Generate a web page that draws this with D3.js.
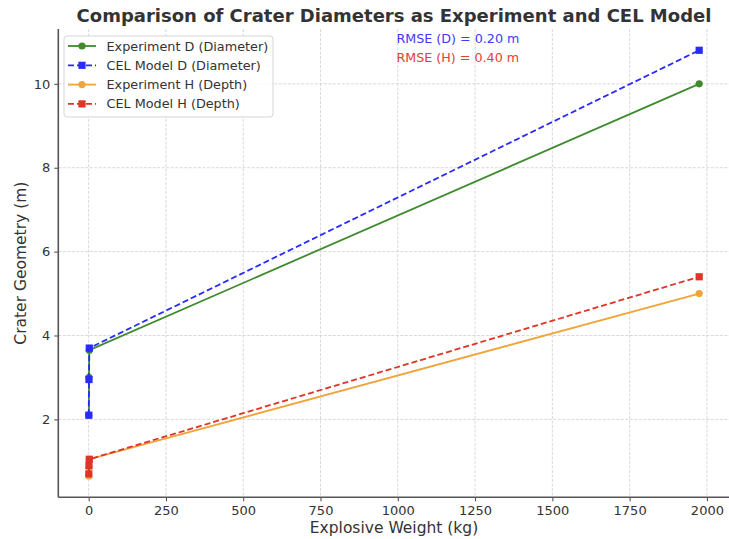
<!DOCTYPE html>
<html>
<head>
<meta charset="utf-8">
<script src="https://cdn.jsdelivr.net/npm/d3@7"></script>
<style>
  html, body { margin: 0; padding: 0; background: #fff; }
  svg { display: block; font-family: "DejaVu Sans", sans-serif; }
</style>
</head>
<body>
<svg id="chart" width="729" height="539"></svg>
<script>
// Explosive charge weights (kg)
const weights = [0.5, 1, 2, 1975];
// Crater diameter (m)
const expDiameter = [2.1, 3.0, 3.65, 10.0];
const celDiameter = [2.1, 2.95, 3.7, 10.8];
// Crater depth (m)
const expDepth = [0.65, 0.85, 1.05, 5.0];
const celDepth = [0.7, 0.9, 1.05, 5.4];

const xTicks = [0, 250, 500, 750, 1000, 1250, 1500, 1750, 2000];
const yTicks = [2, 4, 6, 8, 10];

const seriesNames = ["Experiment D (Diameter)", "CEL Model D (Diameter)", "Experiment H (Depth)", "CEL Model H (Depth)"];
const rmseLabels = ["RMSE (D) = 0.20 m", "RMSE (H) = 0.40 m"];

const series = [
  { name: seriesNames[0], values: expDiameter, color: "#3f8a2e", dash: null, marker: "circle" },
  { name: seriesNames[1], values: celDiameter, color: "#2a2aff", dash: "6,3", marker: "square" },
  { name: seriesNames[2], values: expDepth, color: "#f0a43a", dash: null, marker: "circle" },
  { name: seriesNames[3], values: celDepth, color: "#de3526", dash: "6,3", marker: "square" }
];

const svg = d3.select("#chart");
const box = { left: 58.3, right: 729.7, top: 29, bottom: 497.3 };

// Auto-range with 5% padding on each side
function padded(vals) {
  const [lo, hi] = d3.extent(vals);
  const m = (hi - lo) * 0.05;
  return [lo - m, hi + m];
}
const allY = [].concat(expDiameter, celDiameter, expDepth, celDepth);

const x = d3.scaleLinear().domain(padded(weights)).range([box.left, box.right]);
const y = d3.scaleLinear().domain(padded(allY)).range([box.bottom, box.top]);

// Grid
const grid = svg.append("g").attr("stroke", "#cfcfcf").attr("stroke-width", 0.8)
  .attr("stroke-dasharray", "3,1.5");
grid.selectAll(".gx").data(xTicks).join("line")
  .attr("x1", d => x(d)).attr("x2", d => x(d))
  .attr("y1", box.top).attr("y2", box.bottom);
grid.selectAll(".gy").data(yTicks).join("line")
  .attr("x1", box.left).attr("x2", box.right)
  .attr("y1", d => y(d)).attr("y2", d => y(d));

// Axes
const xAxis = svg.append("g").attr("transform", `translate(0,${box.bottom})`)
  .call(d3.axisBottom(x).tickValues(xTicks).tickSize(4).tickPadding(4).tickFormat(d3.format("d")));
const yAxis = svg.append("g").attr("transform", `translate(${box.left},0)`)
  .call(d3.axisLeft(y).tickValues(yTicks).tickSize(4).tickPadding(4).tickFormat(d3.format("d")));
[xAxis, yAxis].forEach(a => {
  a.select(".domain").remove();
  a.selectAll(".tick line").attr("stroke", "#444").attr("stroke-width", 1);
  a.selectAll(".tick text").attr("fill", "#333").style("font-size", "13px")
    .style("font-family", "DejaVu Sans, sans-serif");
});
// Spines (left and bottom)
svg.append("line").attr("x1", box.left).attr("x2", box.left).attr("y1", box.top).attr("y2", box.bottom)
  .attr("stroke", "#555").attr("stroke-width", 1.6);
svg.append("line").attr("x1", box.left).attr("x2", box.right).attr("y1", box.bottom).attr("y2", box.bottom)
  .attr("stroke", "#555").attr("stroke-width", 1.6);

// Series lines and markers
const line = d3.line().x((d, i) => x(weights[i])).y(d => y(d));
series.forEach(s => {
  const g = svg.append("g");
  g.append("path").datum(s.values).attr("d", line)
    .attr("fill", "none").attr("stroke", s.color).attr("stroke-width", 1.8)
    .attr("stroke-dasharray", s.dash);
  if (s.marker === "circle") {
    g.selectAll("circle").data(s.values).join("circle")
      .attr("cx", (d, i) => x(weights[i])).attr("cy", d => y(d)).attr("r", 3.6)
      .attr("fill", s.color);
  } else {
    g.selectAll("rect").data(s.values).join("rect")
      .attr("x", (d, i) => x(weights[i]) - 3.6).attr("y", d => y(d) - 3.6)
      .attr("width", 7.2).attr("height", 7.2).attr("fill", s.color);
  }
});

// Title and axis labels
svg.append("text").attr("x", (box.left + box.right) / 2).attr("y", 22)
  .attr("text-anchor", "middle").attr("fill", "#333")
  .style("font-size", "18px").style("font-weight", "bold")
  .text("Comparison of Crater Diameters as Experiment and CEL Model");
svg.append("text").attr("x", (box.left + box.right) / 2).attr("y", 533)
  .attr("text-anchor", "middle").attr("fill", "#333").style("font-size", "15.5px")
  .text("Explosive Weight (kg)");
svg.append("text").attr("transform", `translate(26,${(box.top + box.bottom) / 2}) rotate(-90)`)
  .attr("text-anchor", "middle").attr("fill", "#333").style("font-size", "15.5px")
  .text("Crater Geometry (m)");

// RMSE annotations
svg.append("text").attr("x", 396.5).attr("y", 42.5).attr("fill", "#3a3aff")
  .style("font-size", "12.7px").text(rmseLabels[0]);
svg.append("text").attr("x", 396.5).attr("y", 62).attr("fill", "#e04035")
  .style("font-size", "12.7px").text(rmseLabels[1]);

// Legend
const leg = svg.append("g").attr("transform", "translate(64,36)");
leg.append("rect").attr("width", 209).attr("height", 81).attr("rx", 3)
  .attr("fill", "rgba(255,255,255,0.85)").attr("stroke", "#d5d5d5");
series.forEach((s, i) => {
  const row = leg.append("g").attr("transform", `translate(0,${10 + i * 19.3})`);
  row.append("line").attr("x1", 4).attr("x2", 32).attr("y1", 0).attr("y2", 0)
    .attr("stroke", s.color).attr("stroke-width", 1.8).attr("stroke-dasharray", s.dash);
  if (s.marker === "circle") {
    row.append("circle").attr("cx", 18).attr("cy", 0).attr("r", 3.6).attr("fill", s.color);
  } else {
    row.append("rect").attr("x", 14.4).attr("y", -3.6).attr("width", 7.2).attr("height", 7.2).attr("fill", s.color);
  }
  row.append("text").attr("x", 42.5).attr("y", 4.5).attr("fill", "#333")
    .style("font-size", "12.8px").text(s.name);
});
</script>
</body>
</html>
